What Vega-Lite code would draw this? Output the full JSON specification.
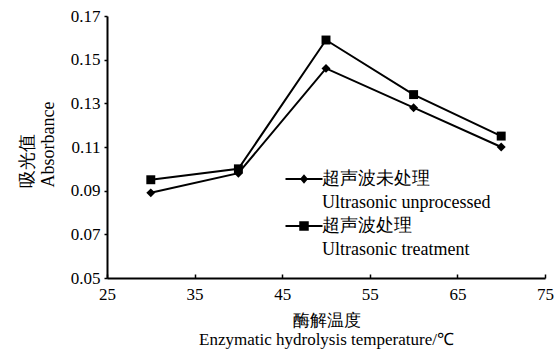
{
  "$schema": "https://vega.github.io/schema/vega-lite/v6.json",
  "autosize": "none",
  "width": 438,
  "height": 262,
  "padding": {"left": 107, "top": 16, "right": 11, "bottom": 73},
  "background": "white",
  "config": {
    "view": {"stroke": null},
    "font": "Liberation Serif",
    "style": {"guide-label": {"lineHeight": 24}},
    "axis": {"domainColor": "black", "domainWidth": 2, "tickColor": "black", "tickWidth": 1.5, "grid": false, "labelColor": "black", "titleColor": "black", "labelFont": "Liberation Serif", "titleFont": "Liberation Serif", "labelFontSize": 17, "titleFontSize": 17, "titleFontWeight": "normal"}
  },
  "data": {
    "values": [
      {"temp": 30, "abs": 0.089, "series": "unprocessed"},
      {"temp": 40, "abs": 0.098, "series": "unprocessed"},
      {"temp": 50, "abs": 0.146, "series": "unprocessed"},
      {"temp": 60, "abs": 0.128, "series": "unprocessed"},
      {"temp": 70, "abs": 0.110, "series": "unprocessed"},
      {"temp": 30, "abs": 0.095, "series": "treatment"},
      {"temp": 40, "abs": 0.100, "series": "treatment"},
      {"temp": 50, "abs": 0.159, "series": "treatment"},
      {"temp": 60, "abs": 0.134, "series": "treatment"},
      {"temp": 70, "abs": 0.115, "series": "treatment"}
    ]
  },
  "encoding": {
    "x": {"field": "temp", "type": "quantitative", "scale": {"domain": [25, 75], "nice": false, "zero": false},
      "axis": {"values": [25, 35, 45, 55, 65, 75], "tickSize": -4, "labelPadding": 12, "labelFlush": false, "title": ["酶解温度", "Enzymatic hydrolysis temperature/℃"], "titleLineHeight": 19, "titlePadding": 10}},
    "y": {"field": "abs", "type": "quantitative", "scale": {"domain": [0.05, 0.17], "nice": false, "zero": false},
      "axis": {"values": [0.05, 0.07, 0.09, 0.11, 0.13, 0.15, 0.17], "format": ".2f", "tickSize": 3, "labelPadding": 4, "title": ["吸光值", "Absorbance"], "titleFontSize": 18, "titleLineHeight": 21, "titleAlign": "left", "titleAngle": -90, "titleBaseline": "middle", "titleX": -80, "titleY": 171}}
  },
  "layer": [
    {
      "mark": {"type": "line", "color": "black", "strokeWidth": 2},
      "encoding": {"detail": {"field": "series"}}
    },
    {
      "mark": {"type": "point", "filled": true, "color": "black", "opacity": 1, "size": 80},
      "encoding": {
        "shape": {"field": "series", "type": "nominal",
          "scale": {"domain": ["unprocessed", "treatment"], "range": ["diamond", "square"]},
          "legend": null
        }
      }
    },
    {
      "transform": [{"filter": "false"}],
      "mark": {"type": "point", "filled": true, "color": "black", "opacity": 1, "size": 100},
      "encoding": {
        "shape": {"field": "series", "type": "nominal",
          "scale": {"domain": ["unprocessed", "treatment"], "range": ["M-3.7,-0.2H3.7V0.2H-3.7Z M0,-0.95L0.8,0L0,0.95L-0.8,0Z", "M-3.7,-0.2H3.7V0.2H-3.7Z M-0.95,-0.95H0.95V0.95H-0.95Z"]},
          "legend": {
            "title": null, "orient": "none", "legendX": 188, "legendY": 154,
            "labelExpr": "datum.value == 'unprocessed' ? ['超声波未处理', 'Ultrasonic unprocessed'] : ['超声波处理', 'Ultrasonic treatment']",
            "labelFont": "Liberation Serif", "labelFontSize": 18, "labelColor": "black", "labelLimit": 300,
            "labelBaseline": "middle", "labelOffset": 9, "rowPadding": 5,
            "symbolSize": 100, "symbolFillColor": "black"
          }
        }
      }
    }
  ],
  "resolve": {"scale": {"shape": "independent"}, "legend": {"shape": "independent"}}
}
